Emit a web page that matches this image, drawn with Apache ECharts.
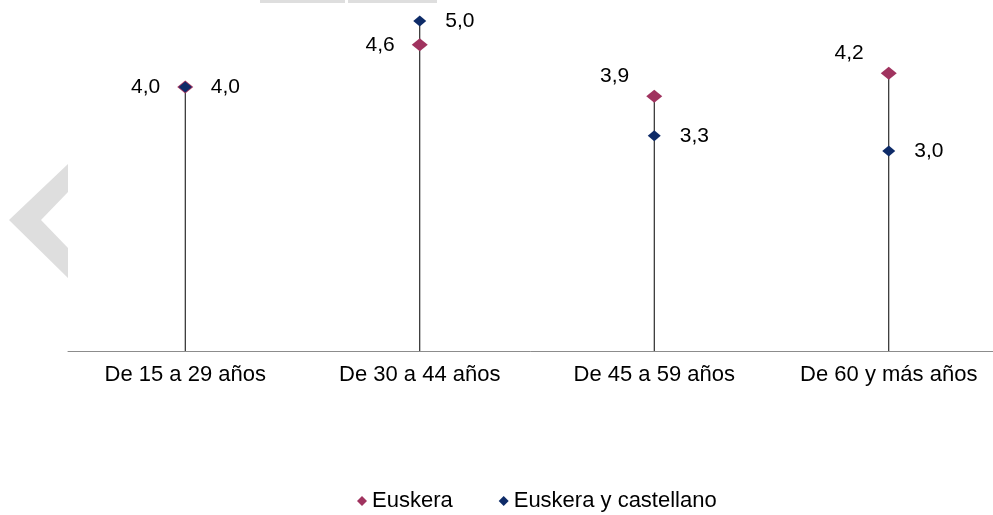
<!DOCTYPE html>
<html>
<head>
<meta charset="utf-8">
<script src="https://cdn.jsdelivr.net/npm/echarts@6/dist/echarts.min.js"></script>
<style>
html,body{margin:0;padding:0;background:#fff;}
#chart{width:993px;height:515px;}
</style>
</head>
<body>
<div id="chart"></div>
<script>
const categories = ['De 15 a 29 años', 'De 30 a 44 años', 'De 45 a 59 años', 'De 60 y más años'];
const euskera = [4.0, 4.64, 3.86, 4.21];
const euskeraCastellano = [4.0, 5.0, 3.26, 3.03];
const seriesNames = ['Euskera', 'Euskera y castellano'];

const PINK = '#A0335F';
const NAVY = '#0E2B68';
const FONT = '"Liberation Sans", Arial, sans-serif';

const fmt = v => v.toFixed(1).replace('.', ',');
const stems = categories.map((c, i) => Math.max(euskera[i], euskeraCastellano[i]));

const chart = echarts.init(document.getElementById('chart'), null, {renderer: 'canvas'});
chart.setOption({
  animation: false,
  backgroundColor: '#fff',
  textStyle: {fontFamily: FONT},
  graphic: [
    {type: 'polygon', z: -10, shape: {points: [[68,164],[9,220],[68,278],[68,248],[41,220],[68,192]]}, style: {fill: '#DEDEDE'}},
    {type: 'rect', z: -10, shape: {x: 260, y: 0, width: 85, height: 3}, style: {fill: '#DEDEDE'}},
    {type: 'rect', z: -10, shape: {x: 348, y: 0, width: 89, height: 3}, style: {fill: '#DEDEDE'}}
  ],
  grid: {left: 68, width: 938, top: 21, bottom: 164, containLabel: false, outerBoundsMode: 'none'},
  legend: {
    data: seriesNames,
    top: 490,
    left: 357,
    padding: 0,
    icon: 'diamond',
    itemWidth: 10,
    itemHeight: 10,
    itemGap: 46,
    textStyle: {fontFamily: FONT, fontSize: 22, color: '#000'}
  },
  xAxis: {
    type: 'category',
    data: categories,
    axisLine: {lineStyle: {color: '#8c8c8c', width: 1}},
    axisTick: {show: false},
    axisLabel: {fontFamily: FONT, fontSize: 22, color: '#000', margin: 13}
  },
  yAxis: {type: 'value', min: 0, max: 5, show: false, splitLine: {show: false}},
  series: [
    {
      type: 'bar',
      name: 'stem',
      data: stems,
      barWidth: 1,
      itemStyle: {color: '#000'},
      silent: true,
      z: 1
    },
    {
      type: 'scatter',
      name: seriesNames[0],
      data: euskera.map((v, i) => ({
        value: v,
        label: i >= 2 ? {offset: [0, -20]} : {}
      })),
      symbol: 'diamond',
      symbolSize: [16, 13],
      itemStyle: {color: PINK, opacity: 1},
      label: {
        show: true, position: 'left', distance: 17,
        formatter: p => fmt(euskera[p.dataIndex]),
        fontFamily: FONT, fontSize: 21, color: '#000'
      },
      z: 3
    },
    {
      type: 'scatter',
      name: seriesNames[1],
      data: euskeraCastellano,
      symbol: 'diamond',
      symbolSize: [13, 11],
      itemStyle: {color: NAVY, opacity: 1},
      label: {
        show: true, position: 'right', distance: 19,
        formatter: p => fmt(p.value),
        fontFamily: FONT, fontSize: 21, color: '#000'
      },
      z: 4
    }
  ]
});
</script>
</body>
</html>
